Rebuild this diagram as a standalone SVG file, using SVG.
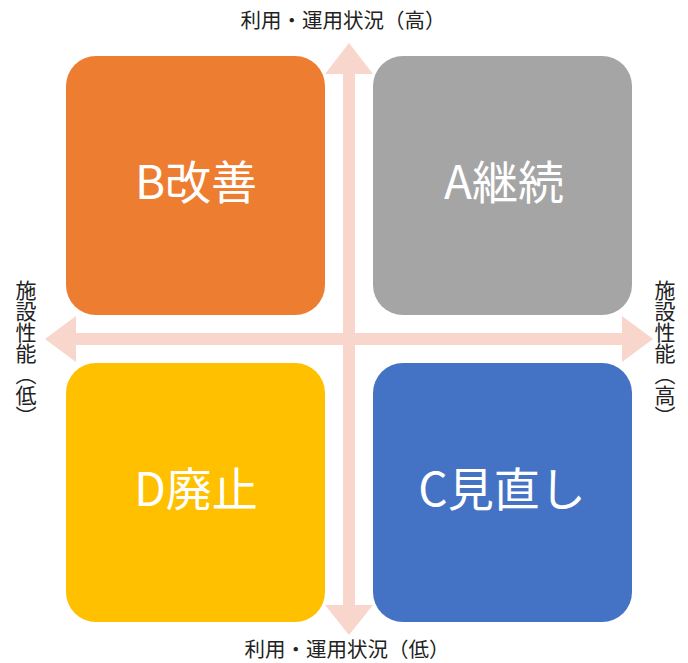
<svg xmlns="http://www.w3.org/2000/svg" width="688" height="663" viewBox="0 0 688 663">
<style>
.box-label{font-family:"Noto Sans CJK JP","Noto Sans",sans-serif;font-size:46px;fill:#ffffff;text-anchor:middle}
.axis-label{font-family:"Noto Sans CJK JP","Noto Sans",sans-serif;font-size:20.5px;fill:#222222}
.vlabel{font-family:"Noto Sans CJK JP","Noto Sans",sans-serif;font-size:21px;fill:#222222;writing-mode:vertical-rl}
.arrow{fill:#F8D6CC}
</style>
<rect width="688" height="663" fill="#ffffff"/>
<g id="connectors">
  <rect class="arrow" x="343" y="72" width="12" height="536"/>
  <polygon class="arrow" points="349,43 373,74 325,74"/>
  <polygon class="arrow" points="349,635 373,605 325,605"/>
  <rect class="arrow" x="74" y="333" width="551" height="12"/>
  <polygon class="arrow" points="45,339 76,316 76,362"/>
  <polygon class="arrow" points="653,339 622,316 622,362"/>
</g>
<g id="nodeB">
  <rect x="66" y="56" width="259" height="259" rx="30" fill="#ED7D31"/>
  <text class="box-label" x="196" y="199">B改善</text>
</g>
<g id="nodeA">
  <rect x="373" y="56" width="259" height="259" rx="30" fill="#A5A5A5"/>
  <text class="box-label" x="504" y="199">A継続</text>
</g>
<g id="nodeD">
  <rect x="66" y="363" width="259" height="259" rx="30" fill="#FFC000"/>
  <text class="box-label" x="196" y="506">D廃止</text>
</g>
<g id="nodeC">
  <rect x="373" y="363" width="259" height="259" rx="30" fill="#4472C4"/>
  <text class="box-label" x="502" y="506">C見直し</text>
</g>
<g id="labels">
  <text class="axis-label" x="343" y="28" text-anchor="middle">利用・運用状況（高）</text>
  <text class="axis-label" x="347" y="657" text-anchor="middle">利用・運用状況（低）</text>
  <text class="vlabel" x="26" y="280">施設性能（低）</text>
  <text class="vlabel" x="665" y="280">施設性能（高）</text>
</g>
</svg>
